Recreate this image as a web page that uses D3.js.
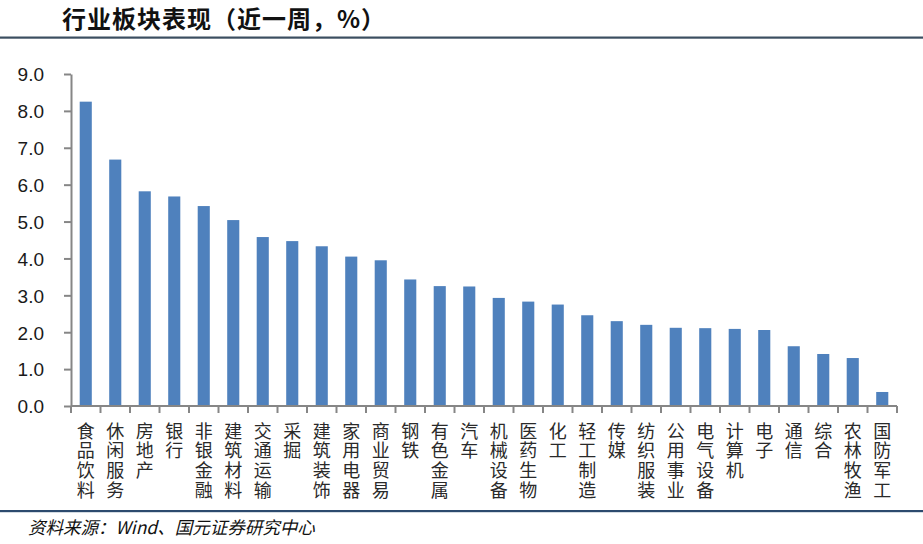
<!DOCTYPE html>
<html><head><meta charset="utf-8">
<script src="https://cdn.jsdelivr.net/npm/d3@7"></script>
<style>
html,body{margin:0;padding:0;background:#fff;}
svg{display:block;}
</style></head>
<body>
<svg id="chart" width="923" height="544"></svg>
<script>
const categories = ["食品饮料","休闲服务","房地产","银行","非银金融","建筑材料","交通运输","采掘","建筑装饰","家用电器","商业贸易","钢铁","有色金属","汽车","机械设备","医药生物","化工","轻工制造","传媒","纺织服装","公用事业","电气设备","计算机","电子","通信","综合","农林牧渔","国防军工"];
const values = [8.25,6.68,5.82,5.68,5.42,5.04,4.58,4.47,4.33,4.05,3.95,3.43,3.25,3.24,2.93,2.83,2.75,2.46,2.30,2.20,2.12,2.11,2.09,2.06,1.62,1.41,1.30,0.38];
const yTicks = [0,1,2,3,4,5,6,7,8,9];
const title = "行业板块表现（近一周，%）";
const source = "资料来源：Wind、国元证券研究中心";

const svg = d3.select("#chart");
const pL = 71, pR = 897, pT = 74, pB = 406;

svg.append("text").attr("x", 62).attr("y", 27.5)
  .attr("font-family", "'Noto Sans CJK SC', sans-serif").attr("font-weight", "bold")
  .attr("font-size", 24).attr("letter-spacing", 1).attr("fill", "#111").text(title);
svg.append("rect").attr("x", 0).attr("y", 36.5).attr("width", 923).attr("height", 2.2).attr("fill", "#3b4e60");

const x = d3.scaleBand().domain(categories).range([pL, pR]).paddingInner(0.59).paddingOuter(0.295);
const xb = d3.scaleBand().domain(categories).range([pL, pR]);
const y = d3.scaleLinear().domain([0, 9]).range([pB, pT]);

const g = svg.append("g");
g.selectAll("rect.bar").data(values).join("rect").attr("class","bar")
  .attr("x", (d,i) => x(categories[i])).attr("width", x.bandwidth())
  .attr("y", d => y(d)).attr("height", d => y(0) - y(d)).attr("fill", "#4f81bd");

// y axis
const yAxis = d3.axisLeft(y).tickValues(yTicks).tickFormat(d3.format(".1f")).tickSize(7).tickSizeOuter(0);
const ya = svg.append("g").attr("transform", `translate(${pL},0)`).call(yAxis);
ya.select(".domain").attr("stroke", "#868686").attr("stroke-width", 2);
ya.selectAll(".tick line").attr("stroke", "#868686").attr("stroke-width", 2);
ya.selectAll(".tick text").attr("x", -27).attr("dy", "0.36em")
  .attr("font-family", "'Liberation Sans', Arial, sans-serif").attr("font-size", 19).attr("fill", "#1a1a1a");

// x axis
const xa = svg.append("g").attr("transform", `translate(0,${pB})`);
xa.append("line").attr("x1", pL).attr("x2", pR).attr("stroke", "#868686").attr("stroke-width", 2);
const bounds = categories.map(c => xb(c)).concat([pR]);
xa.selectAll("line.tk").data(bounds).join("line").attr("class","tk")
  .attr("x1", d => d).attr("x2", d => d).attr("y1", 0).attr("y2", 7)
  .attr("stroke", "#868686").attr("stroke-width", 2);

svg.append("g").selectAll("text").data(categories).join("text")
  .attr("x", c => xb(c) + xb.bandwidth() / 2).attr("y", 422)
  .style("writing-mode", "vertical-rl").style("text-orientation", "upright")
  .attr("letter-spacing", 1.6)
  .attr("font-family", "'Noto Sans CJK SC', sans-serif").attr("font-size", 18).attr("fill", "#2a2a2a")
  .text(c => c);

svg.append("rect").attr("x", 0).attr("y", 510).attr("width", 923).attr("height", 2.2).attr("fill", "#2c4a6e");
svg.append("text").attr("x", 28).attr("y", 533.5)
  .attr("font-family", "'Noto Sans CJK SC', sans-serif").attr("font-style", "italic")
  .attr("font-size", 17.5).attr("fill", "#111").text(source);
</script>
</body></html>
